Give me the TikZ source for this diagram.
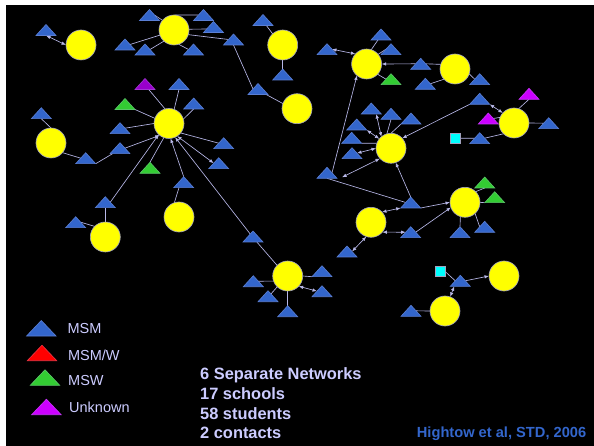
\documentclass[tikz,border=0pt]{standalone}
\usepackage{fontspec}
\setmainfont{Liberation Sans}
\usetikzlibrary{shapes.geometric,arrows.meta,calc}
\pgfdeclarelayer{back}
\pgfsetlayers{back,main}
\definecolor{linkc}{HTML}{B8B8E8}
\definecolor{labelc}{HTML}{CCCCFF}
\definecolor{triblue}{HTML}{3366CC}
\definecolor{trigreen}{HTML}{33CC33}
\definecolor{tripurple}{HTML}{9900CC}
\definecolor{trimag}{HTML}{CC00FF}
\definecolor{sqcyan}{HTML}{00FFFF}
\definecolor{ballc}{HTML}{FFFF00}
\definecolor{redc}{HTML}{FF0000}
\tikzset{
  x=1pt,y=-1pt,
  tri/.style={shape=isosceles triangle,isosceles triangle stretches,shape border rotate=90,
    minimum width=20pt,minimum height=11pt,inner sep=0pt,outer sep=0pt,anchor=lower side,
    fill=#1,draw=#1!70!linkc,line width=0.6pt},
  tri/.default=triblue,
  big/.style={tri=#1,minimum width=29.5pt,minimum height=15.5pt},
  person/.style={circle,minimum size=30pt,inner sep=0pt,outer sep=0pt,fill=ballc,draw=linkc!60!gray,line width=0.6pt},
  contact/.style={rectangle,minimum size=10pt,inner sep=0pt,outer sep=0pt,fill=sqcyan,draw=linkc!60!gray,line width=0.6pt},
  link/.style={draw=linkc,line width=0.65pt},
  both/.style={link,{Latex[length=4.5pt,width=3.5pt]}-{Latex[length=4.5pt,width=3.5pt]}},
  toend/.style={link,-{Latex[length=4.5pt,width=3.5pt]}},
  leg/.style={anchor=base west,inner sep=0pt,text=labelc,font=\fontsize{14.5}{16}\selectfont},
  sumtext/.style={anchor=base west,inner sep=0pt,text=labelc,font=\fontsize{16.4}{18}\selectfont\bfseries},
  cite/.style={anchor=base west,inner sep=0pt,text=triblue,font=\fontsize{14.65}{16}\selectfont\bfseries}
}
\begin{document}
\begin{tikzpicture}
\useasboundingbox (0,0) rectangle (594,446);
\begin{pgfonlayer}{back}
\fill[white] (0,0) rectangle (594,446);
\fill[black] (6,5) rectangle (594,446);
\end{pgfonlayer}
% people
\node[person] (A) at (81,45) {};
\node[person] (B) at (174,30) {};
\node[person] (C) at (282.7,45) {};
\node[person] (D) at (297,108.7) {};
\node[person] (E) at (169,123.5) {};
\node[person] (F) at (51,143) {};
\node[person] (G) at (105.3,237) {};
\node[person] (H) at (179,217) {};
\node[person] (I) at (287.7,276) {};
\node[person] (J) at (366.6,64) {};
\node[person] (K) at (455,69) {};
\node[person] (L) at (514,123) {};
\node[person] (M) at (391,148.3) {};
\node[person] (N) at (465,202.3) {};
\node[person] (O) at (371,222.3) {};
\node[person] (P) at (504,276) {};
\node[person] (Q) at (445,311) {};
% contacts
\node[contact] (S1) at (455,138.3) {};
\node[contact] (S2) at (440.3,271.7) {};
% triangles
\node[tri] (t1) at (46,35.5) {};
\node[tri] (t2) at (149.5,20.5) {};
\node[tri] (t3) at (203.5,20.5) {};
\node[tri] (t4) at (213.5,32.5) {};
\node[tri] (t5) at (233.5,45) {};
\node[tri] (t6) at (125,50) {};
\node[tri] (t7) at (145,55) {};
\node[tri] (t8) at (193.5,55) {};
\node[tri] (t9) at (263,25.5) {};
\node[tri] (t10) at (282.7,80) {};
\node[tri] (t11) at (258,94.5) {};
\node[tri=tripurple] (t12) at (145,89.5) {};
\node[tri] (t13) at (179,89.5) {};
\node[tri] (t14) at (193.7,109) {};
\node[tri=trigreen] (t15) at (125,109.5) {};
\node[tri] (t16) at (120,133.7) {};
\node[tri] (t17) at (223.7,148.7) {};
\node[tri] (t18) at (120,153.7) {};
\node[tri] (t19) at (85.7,163.7) {};
\node[tri=trigreen] (t20) at (150,173.3) {};
\node[tri] (t21) at (218.7,168.7) {};
\node[tri] (t22) at (183.7,187.7) {};
\node[tri] (t23) at (105.3,207.7) {};
\node[tri] (t24) at (75.7,227.7) {};
\node[tri] (t25) at (253,242) {};
\node[tri] (t26) at (253.3,286.7) {};
\node[tri] (t28) at (268,301.7) {};
\node[tri] (t29) at (287.7,316.7) {};
\node[tri] (t30) at (322,276.7) {};
\node[tri] (t31) at (322,296.7) {};
\node[tri] (t32) at (381,40) {};
\node[tri] (t33) at (327,54.7) {};
\node[tri] (t34) at (391,54.7) {};
\node[tri=trigreen] (t35) at (391,84.7) {};
\node[tri] (t36) at (420.7,69.3) {};
\node[tri] (t37) at (425.3,89.3) {};
\node[tri] (t38) at (479.7,84.7) {};
\node[tri] (t39) at (479.7,104.3) {};
\node[tri=trimag] (t40) at (529,99.3) {};
\node[tri=trimag] (t41) at (488.3,124) {};
\node[tri] (t42) at (548.7,128.7) {};
\node[tri] (t43) at (479.7,143.7) {};
\node[tri] (t44) at (371.3,114) {};
\node[tri] (t45) at (391,119.3) {};
\node[tri] (t46) at (411,124) {};
\node[tri] (t47) at (356.7,130) {};
\node[tri] (t48) at (351.7,143.3) {};
\node[tri] (t49) at (352,158.7) {};
\node[tri] (t50) at (327,178.3) {};
\node[tri] (t51) at (410.7,208) {};
\node[tri] (t52) at (410.7,237.7) {};
\node[tri] (t53) at (347,257) {};
\node[tri=trigreen] (t54) at (484.7,188) {};
\node[tri=trigreen] (t55) at (494.7,202.7) {};
\node[tri] (t56) at (460,237.7) {};
\node[tri] (t57) at (484.7,232.3) {};
\node[tri] (t58) at (460.3,286.3) {};
\node[tri] (t59) at (411,316.3) {};
\node[tri] (t60) at (41.3,118.7) {};
\coordinate (f1) at (342,177.3);
% links
\begin{pgfonlayer}{back}
\draw[both] (t1.lower side) -- (A.180);
\draw[link] (t2.right side) -- (B.140);
\draw[link] (t3.left side) -- (B.88);
\draw[link] (B.3) -- ($(t4.left side)+(0,2)$);
\draw[link] (B.-18) -- (t5.left side);
\draw[link] (t6.right side) -- (B.200);
\draw[link] (t7.right side) -- (B.228);
\draw[link] (t8.left side) -- (B.-72);
\draw[link] (t5.lower side) -- (t11.left side);
\draw[link] (t9) -- (C.132);
\draw[link] (C.-90) -- (t10.apex);
\draw[link] (t11) -- (D.160);
\draw[link] (t12) -- (E.105);
\draw[link] (t13.lower side) -- (E.70);
\draw[link] (t14.lower side) -- (E.17);
\draw[link] (t15.right corner) -- (E.160);
\draw[link] (t16.right side) -- (E.180);
\draw[toend] (t18.right side) -- (E.232);
\draw[link] (t19.right corner) -- (t18);
\draw[link] (F.-40) -- (t19.left side);
\draw[link] (t60.lower side) -- (F.90);
\draw[toend] (t23.right side) -- (E.227);
\draw[link] (t20.apex) -- (E.250);
\draw[toend] (t22.apex) -- (E.276);
\draw[toend] (t25) -- (E.-66);
\draw[link] (t17.left side) -- (E.-39);
\draw[both] (E.-57) -- (t21.left side);
\draw[link] ($(t22.lower side)+(-4.7,0)$) -- (H.108);
\draw[link] (G.90) -- (t23.lower side);
\draw[link] (t24.right side) -- (G.135);
\draw[link] (t25) -- (I.135);
\draw[link] (t26.right side) -- (I.200);
\draw[link] (t28) -- (I.226);
\draw[link] (I.-90) -- (t29.apex);
\draw[link] (I.0) -- (t30.left corner);
\draw[both] (I.-43) -- (t31.left side);
\draw[link] (t32) -- (J.72);
\draw[both] (t33.right side) -- (J.138);
\draw[link] (t34.left side) -- (J.40);
\draw[link] (t35.left side) -- (J.-43);
\draw[toend] (t36.left side) -- (J.0);
\draw[link] (K.162) -- (t36.right side);
\draw[link] (t37.right side) -- (K.223);
\draw[link] (K.-19) -- (t38.left side);
\draw[toend] (t50.right side) -- (J.230);
\draw[toend] (t39.left corner) -- (M.42);
\draw[both] (t39.right corner) -- (L.138);
\draw[link] (t40.lower side) -- (L.72);
\draw[link] (t41.right side) -- (L.158);
\draw[link] (L.0) -- (t42.left side);
\draw[link] (S1.east) -- (t43.left side);
\draw[link] (t43.right side) -- (L.226);
\draw[both] ($(t44.lower side)+(5,0)$) -- (M.130);
\draw[link] (t45.lower side) -- (M.106);
\draw[link] (t46.left corner) -- (M.90);
\draw[both] (t47.right corner) -- (M.141);
\draw[link] (t48.right corner) -- (M.160);
\draw[both] (t49.right side) -- (M.180);
\draw[both] (f1) -- (M.223);
\draw[toend] (t51.apex) -- (M.-72);
\draw[link] (t50.lower side) -- (t51.left side);
\draw[both] (t51.left corner) -- (O.43);
\draw[toend] (t51.right corner) -- (N.180);
\draw[both] (O.-41) -- (t52.left side);
\draw[toend] (t52.right side) -- (N.200);
\draw[both] (O.252) -- (t53.right side);
\draw[link] (t54.lower side) -- (N.45);
\draw[link] (t55.left corner) -- (N.0);
\draw[link] (N.252) -- (t56.apex);
\draw[link] (N.-48) -- (t57.left side);
\draw[toend] (t58.right side) -- (P.180);
\draw[link] (S2.east) -- (t58.left side);
\draw[both] ($(t58.lower side)+(-6,0)$) -- (Q.70);
\draw[link] (t59.right side) -- (Q.180);
\end{pgfonlayer}
% legend
\node[big=triblue] (l1) at (41.3,336) {};
\node[big=redc] (l2) at (42,360.7) {};
\node[big=trigreen] (l3) at (45,385.3) {};
\node[big=trimag] (l4) at (46.4,414.7) {};
\node[leg] (m1) at (67.4,333.4) {MSM};
\node[leg] (m2) at (67.8,360) {MSM/W};
\node[leg] (m3) at (68,385) {MSW};
\node[leg] (m4) at (69,412) {Unknown};
\node[sumtext] (s1) at (200,379.2) {6 Separate Networks};
\node[sumtext] (s2) at (200,399.6) {17 schools};
\node[sumtext] (s3) at (200,419.2) {58 students};
\node[sumtext] (s4) at (200,438.2) {2 contacts};
\node[cite] (c1) at (416.7,437.4) {Hightow et al, STD, 2006};
\end{tikzpicture}
\end{document}
